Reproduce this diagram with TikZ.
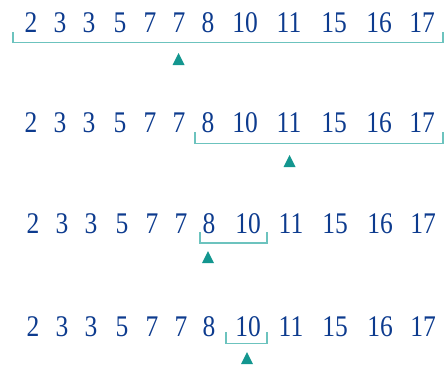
\documentclass[tikz,border=0pt]{standalone}
\usepackage{fontspec}
\setmainfont{Liberation Serif}
\newfontfamily\numfont[FakeStretch=0.85]{Liberation Serif}
\definecolor{numblue}{HTML}{0D3B8E}
\definecolor{brk}{HTML}{6CC3BE}
\definecolor{tri}{HTML}{13968F}
\begin{document}
\begin{tikzpicture}[x=0.75pt,y=-0.75pt,
  num/.style={font=\numfont\fontsize{22.5}{23}\selectfont, text=numblue, anchor=base, inner sep=0pt},
  brack/.style={draw=brk, line width=1.2pt},
  marker/.style={fill=tri}]
\useasboundingbox (0,0) rectangle (446,365);
% rows 1 and 2
\foreach \v/\x [count=\i] in {2/31,3/60,3/89,5/120,7/150,7/179,8/208,10/245,11/289,15/334,16/379,17/422}{
  \node[num] (ra\i) at (\x,32) {\v};
  \node[num] (rb\i) at (\x,132) {\v};
}
% rows 3 and 4
\foreach \v/\x [count=\i] in {2/33,3/62,3/91,5/122,7/152,7/181,8/209,10/248,11/291,15/335,16/380,17/423}{
  \node[num] (rc\i) at (\x,233) {\v};
  \node[num] (rd\i) at (\x,336) {\v};
}
% brackets
\draw[brack] (13,32) -- (13,42.5) -- (443,42.5) -- (443,32);
\draw[brack] (195,132) -- (195,143.5) -- (443,143.5) -- (443,132);
\draw[brack] (200,232) -- (200,243) -- (267,243) -- (267,232);
\draw[brack] (226,332) -- (226,343.5) -- (267,343.5) -- (267,332);
% markers
\fill[marker] (178.5,53) -- (184.5,65) -- (172.5,65) -- cycle;
\fill[marker] (289.5,155) -- (295.5,167) -- (283.5,167) -- cycle;
\fill[marker] (208,251) -- (214,263) -- (202,263) -- cycle;
\fill[marker] (247,352) -- (253,364) -- (241,364) -- cycle;
\end{tikzpicture}
\end{document}
